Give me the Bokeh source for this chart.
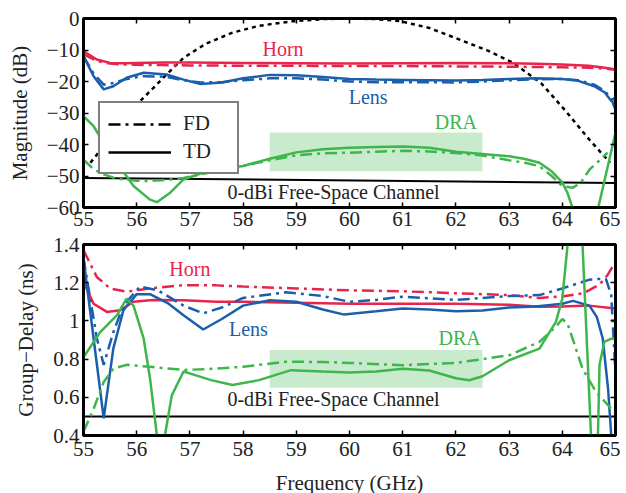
from bokeh.plotting import figure
from bokeh.layouts import column
from bokeh.models import (LinearAxis, FixedTicker, CustomJSTickFormatter, Legend,
                          LegendItem, BoxAnnotation, CustomLabelingPolicy)
from bokeh.core.properties import value
from bokeh.embed import file_html
from bokeh.resources import INLINE

FONT = "Liberation Serif"
RED = "#E8244D"
BLUE = "#1B5EAE"
GREEN = "#3DB64B"

x_ticks = [55, 56, 57, 58, 59, 60, 61, 62, 63, 64, 65]
mag_ticks = [-60, -50, -40, -30, -20, -10, 0]
gd_ticks = [0.4, 0.6, 0.8, 1.0, 1.2, 1.4]

# ---------------- Magnitude (dB) ----------------
horn_f = [55, 55.25, 55.5, 55.75, 56, 56.5, 57, 58, 59, 60, 61, 62, 63, 63.5, 64, 64.5, 64.8, 65]
horn_td_mag = [-10.4, -13, -14.1, -14.2, -14.1, -14, -14, -14.1, -14.2, -14.3, -14.2, -14.1, -14.2, -14.4, -14.6, -15.0, -15.6, -16.2]
horn_fd_mag = [-11.4, -13.5, -14.3, -14.6, -14.7, -14.8, -14.9, -15, -15, -15.1, -15.1, -15.2, -15.3, -15.4, -15.5, -15.6, -15.9, -16.3]

lens_f = [55, 55.19, 55.38, 55.56, 55.81, 56.13, 56.56, 56.88, 57.2, 57.6, 58, 58.5, 59, 59.5,
          60, 60.5, 61, 61.5, 62, 62.5, 63, 63.5, 64, 64.3, 64.6, 64.8, 64.92, 65]
lens_td_mag = [-12, -18.3, -22.5, -21.5, -18.8, -17.2, -17.8, -19.4, -20.8, -20.3, -19, -17.9, -18, -18.6,
               -19.2, -19.4, -19.5, -19.6, -19.7, -19.5, -19.2, -19, -19.2, -19.8, -21.5, -23.5, -26.2, -25]
lens_fd_mag = [-12, -17.5, -21, -20.5, -19.2, -18.3, -18.5, -19.6, -20.3, -20.2, -19.6, -19, -19, -19.4,
               -20, -20.2, -20.2, -20.2, -20.3, -20, -19.6, -19.3, -19.2, -19.6, -21, -23, -25.5, -29]

dra_td_f = [55, 55.19, 55.38, 55.63, 55.94, 56.25, 56.38, 56.63, 56.88, 57.2, 57.6, 58, 58.5, 59, 59.5,
            60, 60.5, 61, 61.5, 62, 62.5, 63, 63.3, 63.57, 63.8, 64.0, 64.1, 64.2]
dra_td_mag = [-31, -34.2, -39.5, -45.8, -53.2, -57.5, -58.3, -55.3, -51.1, -49.2, -47.8, -46.8, -44.5, -42.5, -41.5,
              -41, -40.8, -40.6, -41, -42.3, -43, -43.7, -44.6, -45.8, -48.5, -52, -55.5, -60.5]
dra_td2_f = [64.67, 64.75, 64.85, 65]
dra_td2_mag = [-60.5, -54.6, -47.3, -36.2]

dra_fd_f = [55, 55.19, 55.38, 55.63, 56.0, 56.25, 56.6, 56.88, 57.2, 57.6, 58, 58.5, 59, 59.5, 60, 60.5,
            61, 61.5, 62, 62.5, 63, 63.3, 63.57, 63.8, 64.0, 64.2, 64.35, 64.51, 64.7, 64.85]
dra_fd_mag = [-44.8, -47.9, -49.5, -50.9, -51.5, -51.6, -51.2, -50.6, -49.5, -48.2, -46.8, -45, -43.4, -42.8, -42.6, -42.3,
              -42, -42.2, -42.7, -43.5, -45, -45.8, -46.9, -50, -53.2, -53.7, -52, -48, -45, -42.6]

pattern_f = [55.13, 55.38, 55.63, 55.94, 56.25, 56.56, 56.88, 57.3, 57.8, 58.3, 58.93, 59.5, 60, 60.5,
             60.94, 61.5, 62.07, 62.6, 63.07, 63.6, 64.07, 64.5, 64.9]
pattern_mag = [-45.8, -40.5, -34.2, -28.4, -23.1, -17.8, -12.5, -8, -4.5, -2.3, -0.9, -0.2, 0, -0.2,
               -0.8, -3, -6.7, -10.2, -14, -20.5, -29.5, -38.3, -45.8]

fs_f = [55, 65]
fs_mag = [-50.6, -52.2]

# ---------------- Group delay (ns) ----------------
horn_td_gd_f = [55, 55.19, 55.44, 55.69, 55.94, 56.3, 56.88, 57.5, 58, 59, 60, 61, 62, 63, 63.57, 64, 64.5, 65]
horn_td_gd = [1.204, 1.09, 1.047, 1.056, 1.10, 1.11, 1.108, 1.10, 1.10, 1.095, 1.09, 1.09, 1.09, 1.085, 1.074, 1.075, 1.08, 1.065]
horn_fd_gd_f = [55, 55.25, 55.5, 55.81, 56.25, 56.88, 57.5, 58, 59, 60, 61, 62, 63, 63.57, 64, 64.4, 64.7, 64.85, 65]
horn_fd_gd = [1.37, 1.23, 1.17, 1.153, 1.17, 1.187, 1.186, 1.18, 1.17, 1.16, 1.155, 1.145, 1.135, 1.12, 1.128, 1.145, 1.19, 1.24, 1.31]

lens_td_gd_f = [55, 55.19, 55.38, 55.56, 55.75, 56.0, 56.25, 56.6, 56.88, 57.25, 57.6, 58, 58.5, 59, 59.5, 59.9,
                60.5, 61, 61.5, 62, 62.5, 63, 63.5, 64, 64.2, 64.51, 64.65, 64.76, 64.86, 64.92, 64.96]
lens_td_gd = [1.327, 0.908, 0.49, 0.855, 1.056, 1.14, 1.14, 1.09, 1.03, 0.955, 1.01, 1.08, 1.108, 1.10, 1.06, 1.033,
              1.05, 1.065, 1.06, 1.05, 1.055, 1.07, 1.075, 1.09, 1.105, 1.08, 1.02, 0.908, 0.646, 0.40, 0.3]
lens_fd_gd_f = [55, 55.25, 55.38, 55.56, 55.75, 56.06, 56.4, 56.88, 57.25, 57.6, 58, 58.8, 59.5, 60, 60.5, 61,
                62, 63, 63.57, 64, 64.5, 64.7, 64.82, 64.92, 65]
lens_fd_gd = [1.33, 0.91, 0.77, 0.94, 1.08, 1.18, 1.16, 1.08, 1.04, 1.07, 1.12, 1.15, 1.13, 1.10, 1.11, 1.127,
              1.11, 1.13, 1.135, 1.17, 1.215, 1.22, 1.22, 1.135, 0.72]

dra_td_gd_f = [55, 55.31, 55.63, 55.81, 55.94, 56.13, 56.25, 56.38, 56.45, 56.53, 56.66, 56.88, 57.1, 57.4, 57.8,
               58.3, 58.9, 59.5, 60, 60.5, 61, 61.5, 62, 62.25, 62.5, 63, 63.57, 63.88, 64.0, 64.1, 64.15,
               64.3, 64.38, 64.54, 64.6, 64.67, 64.7, 64.79, 64.9, 65]
dra_td_gd = [0.81, 0.94, 1.03, 1.117, 1.08, 0.908, 0.70, 0.40, 0.2, 0.40, 0.61, 0.735, 0.716, 0.69, 0.664,
             0.69, 0.742, 0.735, 0.73, 0.735, 0.75, 0.74, 0.70, 0.689, 0.71, 0.794, 0.855, 0.995, 1.117, 1.4, 1.6,
             1.6, 1.4, 0.40, 0.2, 0.40, 0.77, 0.89, 0.905, 0.908]
dra_fd_gd_f = [55, 55.19, 55.38, 55.56, 55.81, 56.25, 56.88, 57.5, 58, 58.8, 59.5, 60, 61, 62, 62.5, 63,
               63.57, 63.88, 64.0, 64.1, 64.38, 64.63, 65]
dra_fd_gd = [0.42, 0.54, 0.68, 0.75, 0.77, 0.76, 0.743, 0.75, 0.76, 0.786, 0.785, 0.78, 0.768, 0.78, 0.80, 0.82,
             0.89, 0.97, 1.01, 0.985, 0.75, 0.63, 0.515]

fs_gd = [0.5, 0.5]

# highlighted band (GHz) and its vertical extent in each panel
band_f = [58.5, 62.5]
band_mag = [-48.5, -36.2]
band_gd = [0.65, 0.847]

series_names = ["Horn", "Lens", "DRA"]
legend_names = ["FD", "TD"]
fs_label = "0-dBi Free-Space Channel"

mag_label_x = [58.75, 60.35, 62.0]
mag_label_y = [-9.8, -24.8, -32.7]
gd_label_x = [57.0, 58.1, 62.07]
gd_label_y = [1.27, 0.96, 0.91]
fs_label_pos_mag = (59.7, -55.2)
fs_label_pos_gd = (59.7, 0.59)

DASHDOT = "12 5 3 5"
LW = 2.5
TICK_FS = "21px"

no_labels = CustomLabelingPolicy(code="return [];")


def style(p, yticks, yfmt, ylabel, xlabel=None, xstandoff=4):
    p.xgrid.grid_line_color = None
    p.ygrid.grid_line_color = None
    p.outline_line_color = "black"
    p.outline_line_width = 3
    p.background_fill_color = "white"
    p.border_fill_color = "white"
    for ax in (p.xaxis[0], p.yaxis[0]):
        ax.axis_line_width = 2.5
        ax.axis_line_color = "black"
        ax.major_tick_in = 5
        ax.major_tick_out = 0
        ax.major_tick_line_width = 1.5
        ax.minor_tick_line_color = None
        ax.major_label_text_font = FONT
        ax.major_label_text_font_size = TICK_FS
        ax.major_label_text_color = "#222222"
        ax.axis_label_text_font = FONT
        ax.axis_label_text_font_size = TICK_FS
        ax.axis_label_text_font_style = "normal"
        ax.axis_label_text_color = "#222222"
    p.xaxis[0].ticker = FixedTicker(ticks=x_ticks)
    p.yaxis[0].ticker = FixedTicker(ticks=yticks)
    p.yaxis[0].formatter = yfmt
    p.yaxis[0].axis_label = ylabel
    p.yaxis[0].major_label_standoff = 4
    p.yaxis[0].axis_label_standoff = 12
    p.xaxis[0].major_label_standoff = xstandoff
    if xlabel:
        p.xaxis[0].axis_label = xlabel
        p.xaxis[0].axis_label_standoff = 12
    # mirrored tick marks on top and right (labels filtered out)
    for loc, tk in (("right", yticks), ("above", x_ticks)):
        ax = LinearAxis(ticker=FixedTicker(ticks=tk), major_label_text_font_size="0px",
                        major_label_policy=no_labels,
                        major_label_standoff=0, major_tick_in=5, major_tick_out=0,
                        major_tick_line_width=1.5, minor_tick_line_color=None,
                        axis_line_width=2.5, axis_line_color="black")
        p.add_layout(ax, loc)


neg_fmt = CustomJSTickFormatter(code="return String(tick).replace('-', '\u2212');")
gd_fmt = CustomJSTickFormatter(code="return String(Math.round(tick*10)/10);")

# ---------------- top panel ----------------
p1 = figure(width=620, height=234, x_range=(55, 65), y_range=(-60, 0),
            output_backend="svg", toolbar_location=None,
            min_border_left=83, min_border_right=5, min_border_top=18, min_border_bottom=27)
style(p1, mag_ticks, neg_fmt, "Magnitude (dB)", xstandoff=4)

p1.add_layout(BoxAnnotation(left=band_f[0], right=band_f[1], bottom=band_mag[0], top=band_mag[1],
                            fill_color=GREEN, fill_alpha=0.28, line_color=None, level="underlay"))

p1.line(pattern_f, pattern_mag, line_color="black", line_width=LW, line_dash="4 4")
p1.line(fs_f, fs_mag, line_color="black", line_width=2)
p1.line(horn_f, horn_td_mag, line_color=RED, line_width=LW)
p1.line(horn_f, horn_fd_mag, line_color=RED, line_width=LW, line_dash=DASHDOT)
p1.line(lens_f, lens_td_mag, line_color=BLUE, line_width=LW)
p1.line(lens_f, lens_fd_mag, line_color=BLUE, line_width=LW, line_dash=DASHDOT)
p1.line(dra_td_f, dra_td_mag, line_color=GREEN, line_width=LW)
p1.line(dra_td2_f, dra_td2_mag, line_color=GREEN, line_width=LW)
p1.line(dra_fd_f, dra_fd_mag, line_color=GREEN, line_width=LW, line_dash=DASHDOT)

p1.text(x=mag_label_x, y=mag_label_y, text=series_names, text_color=[RED, BLUE, GREEN],
        text_font=value(FONT), text_font_size="20px", text_align="center", text_baseline="middle")
p1.text(x=[fs_label_pos_mag[0]], y=[fs_label_pos_mag[1]], text=[fs_label], text_color="#222222",
        text_font=value(FONT), text_font_size="20px", text_align="center", text_baseline="middle")

# legend (black line samples)
fd_r = p1.line([55, 55], [-100, -100], line_color="black", line_width=LW, line_dash=DASHDOT)
td_r = p1.line([55, 55], [-100, -100], line_color="black", line_width=LW)
leg = Legend(items=[LegendItem(label=legend_names[0], renderers=[fd_r]),
                    LegendItem(label=legend_names[1], renderers=[td_r])],
             location=(15, 33), padding=8, spacing=3, glyph_width=63, glyph_height=22,
             label_standoff=12, label_width=46, label_height=22, margin=0,
             label_text_font=FONT, label_text_font_size="21px", label_text_color="#222222",
             border_line_color="black", border_line_width=2, background_fill_color="white",
             background_fill_alpha=1.0)
p1.add_layout(leg, "center")

# ---------------- bottom panel ----------------
p2 = figure(width=620, height=266, x_range=(55, 65), y_range=(0.4, 1.4),
            output_backend="svg", toolbar_location=None,
            min_border_left=83, min_border_right=5, min_border_top=10, min_border_bottom=65)
style(p2, gd_ticks, gd_fmt, "Group\u2212Delay (ns)", xlabel="Frequency (GHz)", xstandoff=6)

p2.add_layout(BoxAnnotation(left=band_f[0], right=band_f[1], bottom=band_gd[0], top=band_gd[1],
                            fill_color=GREEN, fill_alpha=0.28, line_color=None, level="underlay"))

p2.line(fs_f, fs_gd, line_color="black", line_width=2)
p2.line(horn_td_gd_f, horn_td_gd, line_color=RED, line_width=LW)
p2.line(horn_fd_gd_f, horn_fd_gd, line_color=RED, line_width=LW, line_dash=DASHDOT)
p2.line(lens_td_gd_f, lens_td_gd, line_color=BLUE, line_width=LW)
p2.line(lens_fd_gd_f, lens_fd_gd, line_color=BLUE, line_width=LW, line_dash=DASHDOT)
p2.line(dra_td_gd_f, dra_td_gd, line_color=GREEN, line_width=LW)
p2.line(dra_fd_gd_f, dra_fd_gd, line_color=GREEN, line_width=LW, line_dash=DASHDOT)

p2.text(x=gd_label_x, y=gd_label_y, text=series_names, text_color=[RED, BLUE, GREEN],
        text_font=value(FONT), text_font_size="20px", text_align="center", text_baseline="middle")
p2.text(x=[fs_label_pos_gd[0]], y=[fs_label_pos_gd[1]], text=[fs_label], text_color="#222222",
        text_font=value(FONT), text_font_size="20px", text_align="center", text_baseline="middle")

layout = column(p1, p2, spacing=0)
open("out.html", "w").write(file_html(layout, INLINE))
